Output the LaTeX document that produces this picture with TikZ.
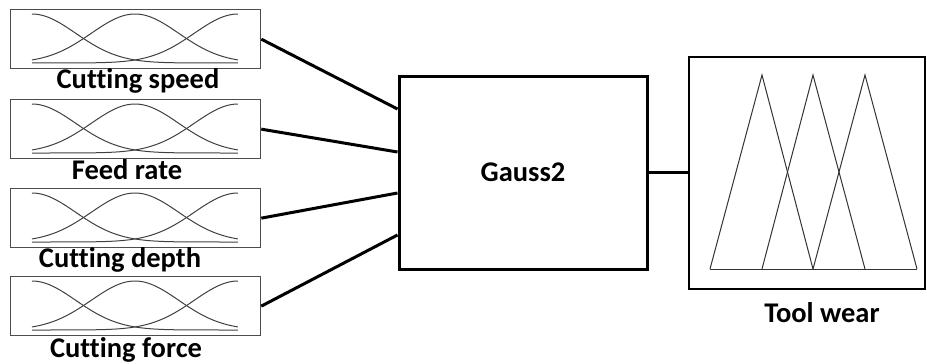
\documentclass[tikz,border=0pt]{standalone}
\usepackage{fontspec}
\setmainfont{Carlito}[Ligatures=NoCommon]
\begin{document}
\begin{tikzpicture}[x=1pt,y=-1pt,
  inbox/.style={draw=black!70, line width=1.3pt, minimum width=250pt, minimum height=59pt, inner sep=0pt, anchor=north west},
  lbl/.style={font=\bfseries\fontsize{28.5}{31}\selectfont, inner sep=0pt, anchor=base},
  mf/.style={draw=black!75, line width=1pt},
  conn/.style={draw=black, line width=3pt},
  gbox/.style={draw=black, line width=3pt, minimum width=248pt, minimum height=193pt, inner sep=0pt, font=\bfseries\fontsize{28.5}{31}\selectfont},
  obox/.style={draw=black, line width=2pt, minimum width=236pt, minimum height=232pt, inner sep=0pt},
  tri/.style={draw=black!80, line width=1pt, line join=miter}]
\useasboundingbox (0,0) rectangle (927,364);
% input boxes
\node[inbox] (in1) at (10,9) {};
\node[inbox] (in2) at (10,99) {};
\node[inbox] (in3) at (10,188) {};
\node[inbox] (in4) at (10,276) {};
\foreach \t in {9,99,188,276}{
  \draw[mf] plot[domain=0:1,samples=60,smooth] ({32+206*\x},{\t+54-49*exp(-(\x)^2/0.09)});
  \draw[mf] plot[domain=0:1,samples=60,smooth] ({32+206*\x},{\t+54-49*exp(-(\x-0.5)^2/0.09)});
  \draw[mf] plot[domain=0:1,samples=60,smooth] ({32+206*\x},{\t+54-49*exp(-(\x-1)^2/0.09)});
}
% labels
\node[lbl] (l1) at (138,88) {Cutting speed};
\node[lbl] (l2) at (127,179) {Feed rate};
\node[lbl] (l3) at (120,267) {Cutting depth};
\node[lbl] (l4) at (126,357) {Cutting force};
% Gauss2 box
\node[gbox] (g) at (523,172.5) {Gauss2};
% output box
\node[obox] (tw) at (807,172.5) {};
\coordinate (b0) at (710,269);
\coordinate (b1) at (762,269);
\coordinate (b2) at (813,269);
\coordinate (b3) at (865,269);
\coordinate (b4) at (917,269);
\coordinate (p1) at (762,75);
\coordinate (p2) at (813,75);
\coordinate (p3) at (865,75);
\draw[tri] (b0) -- (p1) -- (b2);
\draw[tri] (b1) -- (p2) -- (b3);
\draw[tri] (b2) -- (p3) -- (b4);
\draw[tri] (b0) -- (b4);
\node[lbl] (twl) at (822,322) {Tool wear};
% connectors
\draw[conn] (in1.east) -- ([yshift=63.5pt]g.west);
\draw[conn] (in2.east) -- ([yshift=20.5pt]g.west);
\draw[conn] (in3.east) -- ([yshift=-20.5pt]g.west);
\draw[conn] (in4.east) -- ([yshift=-62.5pt]g.west);
\draw[conn] (g.east) -- (tw.west);
\end{tikzpicture}
\end{document}
